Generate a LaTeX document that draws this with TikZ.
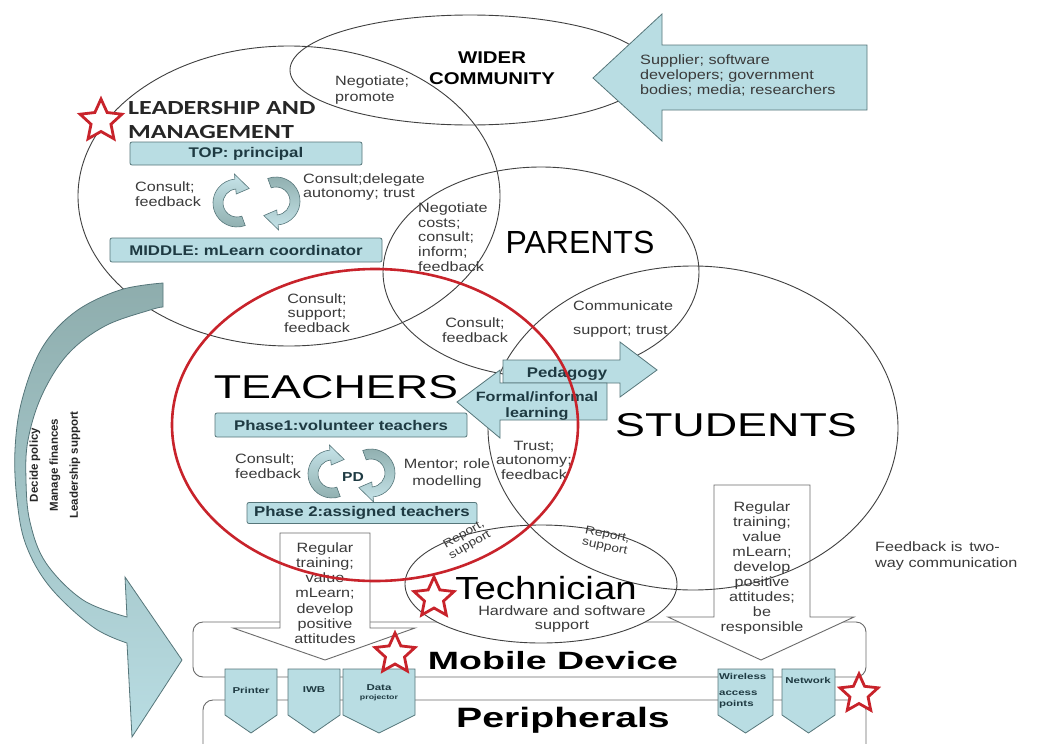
\documentclass[tikz,border=0pt]{standalone}
\usepackage{fontspec}
\setmainfont{Liberation Sans}[FakeStretch=1.2]
\newfontfamily\fHead{Liberation Sans}[FakeStretch=1.36]
\newfontfamily\fPar{Liberation Sans}
\newfontfamily\fMob{Liberation Sans}[FakeStretch=1.5]
\newfontfamily\fPer{Liberation Sans}[FakeStretch=1.4]
\newfontfamily\fCal{Carlito}[FakeStretch=1.3]
\newfontfamily\fTab{Liberation Sans}[FakeStretch=1.35]
\usetikzlibrary{shapes.geometric}
\definecolor{lblue}{HTML}{B9DDE3}
\definecolor{lcirc}{HTML}{C6E4E9}
\definecolor{bedge}{HTML}{56767A}
\definecolor{btext}{HTML}{1E3A42}
\definecolor{dteal}{HTML}{8EADAD}
\definecolor{gtext}{HTML}{3A3A3A}
\definecolor{eline}{HTML}{404040}
\definecolor{redc}{HTML}{C8232B}
\definecolor{boxl}{HTML}{6A6A6A}
\begin{document}
\begin{tikzpicture}[x=1pt,y=-1pt,
  ell/.style={draw=eline, line width=0.9pt},
  small/.style={font=\fontsize{13.5}{14.8}\selectfont, text=gtext, inner sep=0pt},
  bbox/.style={draw=bedge, fill=lblue, rounded corners=2pt, line width=0.8pt, text=btext,
     font=\bfseries\fontsize{14}{16}\selectfont, inner sep=0pt},
  starr/.style={star, star points=5, star point ratio=2.1, draw=redc, fill=white,
     line width=2.8pt, minimum size=40pt, inner sep=0pt},
  tabst/.style={draw=bedge, fill=lblue, line width=0.8pt},
  tabt/.style={font=\fTab\bfseries\fontsize{8.5}{10}\selectfont, text=btext, inner sep=0pt},
  harrow/.style={draw=bedge, fill=lblue, line width=0.8pt},
  warrow/.style={draw=boxl, fill=white, line width=0.9pt},
  boxline/.style={draw=boxl, fill=white, line width=0.9pt, rounded corners=10pt},
  head/.style={inner sep=0pt, text=black},
  circa/.style={draw=bedge, line width=0.6pt}
]
\useasboundingbox (0,0) rectangle (1039,744);
\fill[white] (0,0) rectangle (1039,744);

% device boxes
\draw[boxline] (193,622) rectangle (866,677);
\draw[boxline] (203,700) rectangle (866,780);

% white down arrows
\draw[warrow] (280,533) -- (370,533) -- (370,628) -- (415,628) -- (325,660) -- (233,628) -- (280,628) -- cycle;
\draw[warrow] (714,485) -- (810,485) -- (810,617) -- (854,617) -- (761,660) -- (668,617) -- (714,617) -- cycle;

% tabs
\foreach \a/\b in {225/277, 288/340, 343/415, 718/773, 782/835}
  \draw[tabst] (\a,669) -- (\b,669) -- (\b,715) -- ({(\a+\b)/2},733) -- (\a,715) -- cycle;
\node[tabt] (tprinter) at (251,690) {Printer};
\node[tabt] (tiwb) at (314,690) {IWB};
\node[tabt, align=center] (tdata) at (379,693) {Data\\[-1pt]{\fontsize{6.5}{7}\selectfont projector}};
\node[tabt, align=left, anchor=north west, font=\fTab\bfseries\fontsize{8.5}{16}\selectfont] (twire) at (719,673) {Wireless\\access\\[-5pt]points};
\node[tabt] (tnet) at (808,680) {Network};

% wider community
\draw[ell] (470,70) ellipse [x radius=180, y radius=55];
\draw[harrow] (593,78) -- (662,14) -- (662,45) -- (867,45) -- (867,110) -- (662,110) -- (662,141) -- cycle;

% leadership, parents
\draw[ell] (289,196) ellipse [x radius=211, y radius=150];
\draw[ell] (541,272) ellipse [x radius=158, y radius=105];
% technician
\draw[ell, fill=white] (541,584) ellipse [x radius=136, y radius=59];
% students
\draw[ell] (693,428) ellipse [x radius=205, y radius=162];

% pedagogy arrows
\draw[harrow] (503,360) -- (620,360) -- (620,342) -- (657,370) -- (620,397) -- (620,383) -- (503,383) -- cycle;
\draw[harrow] (457,402) -- (500,370) -- (500,383) -- (607,383) -- (607,420) -- (500,420) -- (500,438) -- cycle;

% blue boxes
\node[bbox, minimum width=232pt, minimum height=23pt] (top) at (246,153.5) {TOP: principal};
\node[bbox, minimum width=272pt, minimum height=24pt] (mid) at (246,250) {MIDDLE: mLearn coordinator};
\node[bbox, minimum width=252pt, minimum height=24pt] (ph1) at (341,425) {Phase1:volunteer teachers};
\node[bbox, minimum width=230pt, minimum height=21pt] (ph2) at (362,513) {Phase 2:assigned teachers};

% circular arrows
\foreach \cx/\cy/\dx/\dy in {237/203/276/201, 332/474/371/473}{
\begin{scope}[shift={(\cx,\cy)}]
\path[circa, top color=lcirc, bottom color=dteal]
 (70:24) arc[start angle=70, end angle=265, radius=24] -- (265:29) -- (310:19) -- (265:9) -- (265:14)
 arc[start angle=265, end angle=70, radius=14] -- cycle;
\end{scope}
\begin{scope}[shift={(\dx,\dy)}]
\path[circa, top color=dteal, bottom color=lcirc]
 (250:24) arc[start angle=250, end angle=445, radius=24] -- (445:29) -- (490:19) -- (445:9) -- (445:14)
 arc[start angle=445, end angle=250, radius=14] -- cycle;
\end{scope}
}

% texts
\node[head, font=\bfseries\fontsize{17}{21}\selectfont, align=center] (wider) at (492,68) {WIDER\\COMMUNITY};
\node[small, anchor=west, align=left, font=\fontsize{13.5}{16}\selectfont] (negp) at (335,90) {Negotiate;\\promote};
\node[small, anchor=west, align=left, font=\fontsize{13.5}{15}\selectfont] (supp) at (640,75) {Supplier; software\\developers; government\\bodies; media; researchers};
\node[head, anchor=west, align=left, font=\fCal\bfseries\fontsize{20}{24}\selectfont, text=black!85] (lead) at (128,120) {LEADERSHIP AND\\MANAGEMENT};
\node[small, anchor=west, align=left] (cf1) at (135,194) {Consult;\\feedback};
\node[small, anchor=west, align=left] (cdel) at (303,187) {Consult;delegate\\autonomy; trust};
\node[small, anchor=west, align=left, font=\fontsize{13.5}{14.7}\selectfont] (negc) at (418,237) {Negotiate\\costs;\\consult;\\inform;\\feedback};
\node[head, font=\fPar\fontsize{32}{36}\selectfont] (parents) at (580,242) {PARENTS};
\node[small, align=center] (csf) at (317,313) {Consult;\\support;\\feedback};
\node[small, align=center] (cf2) at (475,330) {Consult;\\feedback};
\node[small, anchor=west, align=left, font=\fontsize{13.5}{24}\selectfont] (comm) at (573,319) {Communicate\\support; trust};
\node[head, font=\fHead\fontsize{33}{36}\selectfont] (teachers) at (336,387) {TEACHERS};
\node[head, font=\fHead\fontsize{33}{36}\selectfont] (students) at (736,425) {STUDENTS};
\node[inner sep=0pt, text=btext, font=\bfseries\fontsize{14}{16}\selectfont] (ped) at (567,374) {Pedagogy};
\node[inner sep=0pt, text=btext, align=center, font=\bfseries\fontsize{13.5}{16}\selectfont] (formal) at (537,406) {Formal/informal\\learning};
\node[small, anchor=west, align=left] (cf3) at (235,466) {Consult;\\feedback};
\node[inner sep=0pt, text=btext, font=\bfseries\fontsize{13}{15}\selectfont] (pd) at (353,477) {PD};
\node[small, align=center, font=\fontsize{13.5}{17}\selectfont] (mentor) at (447,474) {Mentor; role\\modelling};
\node[small, align=center, font=\fontsize{13.5}{14.5}\selectfont] (trust) at (534,460) {Trust;\\autonomy;\\feedback};
\node[small, anchor=west, align=left, font=\fontsize{13.5}{16}\selectfont] (fb) at (875,556) {Feedback is\, two-\\way communication};
\node[small, align=center, font=\fontsize{13.5}{15.2}\selectfont] (rt1) at (325,593) {Regular\\training;\\value\\mLearn;\\develop\\positive\\attitudes};
\node[small, align=center, font=\fontsize{13.5}{15.1}\selectfont] (rt2) at (762,568) {Regular\\training;\\value\\mLearn;\\develop\\positive\\attitudes;\\be\\responsible};
\node[small, align=center, rotate=30, font=\fontsize{11.5}{12}\selectfont] (rep1) at (467,540) {Report,\\support};
\node[small, align=center, rotate=-12, font=\fontsize{11.5}{12}\selectfont] (rep2) at (606,541) {Report,\\support};
\node[head, font=\fontsize{32}{36}\selectfont] (tech) at (546,588) {Technician};
\node[small, align=center, font=\fontsize{13.5}{14.5}\selectfont] (hw) at (562,619) {Hardware and software\\support};
\node[head, font=\fMob\bfseries\fontsize{25}{30}\selectfont] (mobile) at (553,661) {Mobile Device};
\node[head, font=\fPer\bfseries\fontsize{28}{32}\selectfont] (periph) at (563,720) {Peripherals};

% red teachers ellipse
\draw[draw=redc, line width=2.6pt] (375,425) ellipse [x radius=203, y radius=156];

% big curved arrow
\path[draw=bedge, line width=0.8pt, top color=dteal, bottom color=lblue, middle color=dteal!50!lblue]
  plot[smooth, tension=0.6] coordinates {(163,283) (120,290) (75,312) (42,348) (22,400) (15,450) (17,500) (26,545) (50,587) (93,627) (127,643)}
  -- (132,737) -- (182,660) -- (125,577) -- (127,617)
  -- plot[smooth, tension=0.6] coordinates {(127,617) (83,600) (46,563) (30,522) (26,480) (28,440) (42,395) (68,354) (105,326) (150,310) (163,307)}
  -- cycle;
\node[inner sep=0pt, rotate=90, align=center, text=black!85, font=\fPar\bfseries\fontsize{11.5}{20}\selectfont] (policy) at (55,465) {Decide policy\\Manage finances\\Leadership support};

% stars
\node[starr, minimum size=44pt] (s1) at (101,121) {};
\node[starr, minimum size=42pt] (s2) at (434,598) {};
\node[starr, minimum size=42pt] (s3) at (395,654) {};
\node[starr, minimum size=40pt] (s4) at (859,694) {};
\end{tikzpicture}
\end{document}
